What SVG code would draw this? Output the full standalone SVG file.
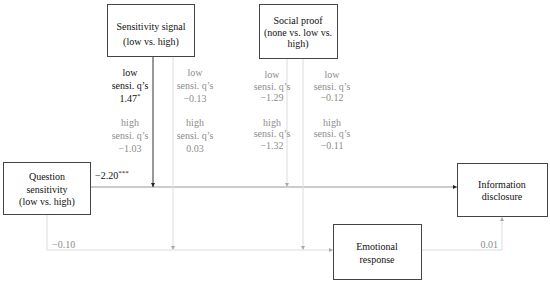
<svg xmlns="http://www.w3.org/2000/svg" width="550" height="282" viewBox="0 0 550 282">
<defs>
<marker id="ak" viewBox="0 0 6 6" refX="6" refY="3" markerWidth="4" markerHeight="4" orient="auto" markerUnits="userSpaceOnUse"><path d="M0,0 L6,3 L0,6 z" fill="#222"/></marker>
<marker id="ag" viewBox="0 0 6 6" refX="6" refY="3" markerWidth="4" markerHeight="4" orient="auto" markerUnits="userSpaceOnUse"><path d="M0,0 L6,3 L0,6 z" fill="#aaa"/></marker>
</defs>
<style>
.box{fill:#fff;stroke:#444;stroke-width:1}
text{font-family:'Liberation Serif','Times New Roman',serif;font-size:10px;text-anchor:middle;fill:#111}
text.g{fill:#8c8c8c}
text.s{text-anchor:start}
text.e{text-anchor:end}
.lt{stroke:#dcdcdc;stroke-width:1;fill:none}
</style>
<rect width="550" height="282" fill="#fff"/>
<g id="connectors">
<line x1="91" y1="187" x2="457" y2="187" stroke="#999" stroke-width="1" marker-end="url(#ak)"/>
<line x1="153" y1="57" x2="153" y2="187" stroke="#333" stroke-width="1" marker-end="url(#ak)"/>
<line class="lt" x1="287" y1="59" x2="287" y2="187" marker-end="url(#ag)"/>
<line class="lt" x1="173" y1="57" x2="173" y2="250" marker-end="url(#ag)"/>
<line class="lt" x1="303" y1="59" x2="303" y2="250" marker-end="url(#ag)"/>
<path class="lt" d="M47,215 V250 H333" marker-end="url(#ag)"/>
<path class="lt" d="M421,250 H502 V217" marker-end="url(#ag)"/>
</g>
<g id="sensitivity-signal">
<rect class="box" x="107.5" y="4.5" width="87" height="52"/>
<text x="151" y="29.5">Sensitivity signal</text>
<text x="151" y="44.5">(low vs. high)</text>
</g>
<g id="social-proof">
<rect class="box" x="259.5" y="4.5" width="78" height="54"/>
<text x="298" y="24">Social proof</text>
<text x="298" y="35.5">(none vs. low vs.</text>
<text x="298" y="47">high)</text>
</g>
<g id="question-sensitivity">
<rect class="box" x="3.5" y="162.5" width="87" height="52"/>
<text x="47" y="180">Question</text>
<text x="47" y="192.5">sensitivity</text>
<text x="47" y="205">(low vs. high)</text>
</g>
<g id="information-disclosure">
<rect class="box" x="457.5" y="163.5" width="90" height="53"/>
<text x="502" y="188">Information</text>
<text x="502" y="200">disclosure</text>
</g>
<g id="emotional-response">
<rect class="box" x="333.5" y="224.5" width="88" height="55"/>
<text x="377" y="250">Emotional</text>
<text x="377" y="263">response</text>
</g>
<g id="labels">
<text x="130" y="76">low</text>
<text x="130" y="89">sensi. q’s</text>
<text x="130" y="102">1.47<tspan font-size="7" dy="-4">*</tspan></text>
<text class="g" x="130" y="126">high</text>
<text class="g" x="130" y="139">sensi. q’s</text>
<text class="g" x="130" y="152">−1.03</text>
<text class="g" x="195" y="76">low</text>
<text class="g" x="195" y="89">sensi. q’s</text>
<text class="g" x="195" y="102">−0.13</text>
<text class="g" x="195" y="126">high</text>
<text class="g" x="195" y="139">sensi. q’s</text>
<text class="g" x="195" y="152">0.03</text>
<text class="g" x="272" y="78">low</text>
<text class="g" x="272" y="89.5">sensi. q’s</text>
<text class="g" x="272" y="101">−1.29</text>
<text class="g" x="272" y="125.5">high</text>
<text class="g" x="272" y="137">sensi. q’s</text>
<text class="g" x="272" y="148.5">−1.32</text>
<text class="g" x="332" y="78">low</text>
<text class="g" x="332" y="89.5">sensi. q’s</text>
<text class="g" x="332" y="101">−0.12</text>
<text class="g" x="332" y="125.5">high</text>
<text class="g" x="332" y="137">sensi. q’s</text>
<text class="g" x="332" y="148.5">−0.11</text>
<text class="s" x="95" y="179">−2.20<tspan font-size="7" dy="-4">***</tspan></text>
<text class="g s" x="52" y="248">−0.10</text>
<text class="g e" x="498" y="248">0.01</text>
</g>
</svg>
